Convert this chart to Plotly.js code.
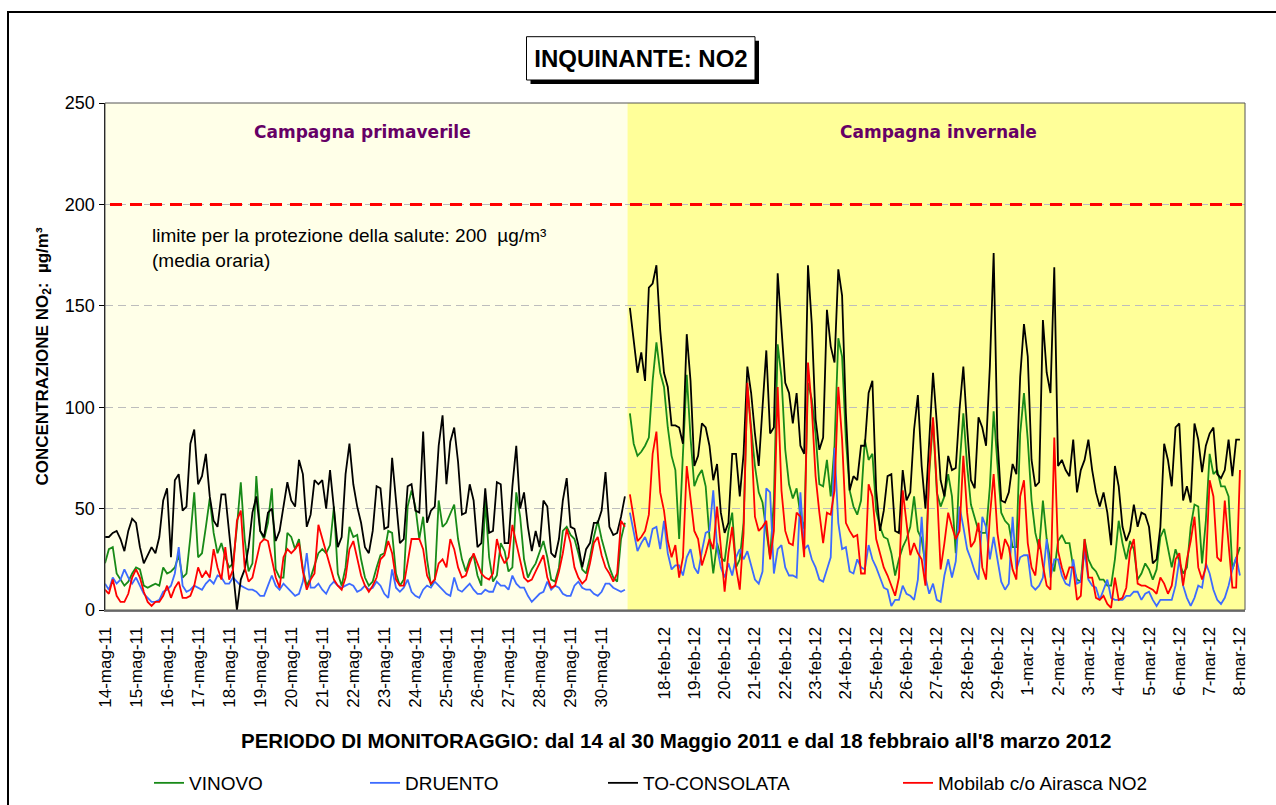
<!DOCTYPE html>
<html>
<head>
<meta charset="utf-8">
<script src="https://cdn.plot.ly/plotly-3.0.1.min.js"></script>
<style>html,body{margin:0;padding:0;background:#fff}#chart{width:1276px;height:805px}</style>
</head>
<body>
<div id="chart"></div>
<script>
// ---- categories / tick labels ----
const springDays = ['14-mag-11','15-mag-11','16-mag-11','17-mag-11','18-mag-11','19-mag-11','20-mag-11','21-mag-11','22-mag-11','23-mag-11','24-mag-11','25-mag-11','26-mag-11','27-mag-11','28-mag-11','29-mag-11','30-mag-11'];
const winterDays = ['18-feb-12','19-feb-12','20-feb-12','21-feb-12','22-feb-12','23-feb-12','24-feb-12','25-feb-12','26-feb-12','27-feb-12','28-feb-12','29-feb-12','1-mar-12','2-mar-12','3-mar-12','4-mar-12','5-mar-12','6-mar-12','7-mar-12','8-mar-12'];
const stepHours = 3;          // one value every 3 hours
const winterStartHour = -27;  // first winter value, hours before 18-feb 00:00

// ---- spring campaign (14-30 May 2011), µg/m³ ----
const vinovoSpring = [23,30,31,18,15,12,14,18,21,20,12,11,12,13,12,21,18,19,21,27,16,18,36,58,26,28,41,55,38,28,33,26,21,23,41,63,35,19,23,66,39,35,43,60,20,
16,16,38,36,30,35,20,12,16,22,28,30,28,32,51,18,12,21,41,36,37,25,16,12,14,21,27,28,39,38,18,12,15,51,59,51,35,46,25,12,15,54,41,43,48,
52,35,25,19,25,27,17,12,54,26,14,17,33,29,19,21,58,46,25,16,20,23,28,34,26,15,14,21,39,41,37,35,28,20,18,26,36,44,35,28,21,16,14,35,43];
const druentoSpring = [13,10,16,13,15,20,16,13,16,12,8,6,4,4,5,9,10,12,18,31,12,9,10,12,11,10,13,15,13,17,16,13,13,16,14,12,11,10,10,9,7,7,12,17,12,
10,13,11,9,7,8,14,28,11,11,13,10,8,12,14,12,11,12,13,12,9,10,12,10,11,14,12,8,6,20,11,9,11,15,9,7,6,10,12,11,14,12,10,8,7,
16,10,9,11,13,10,8,8,10,9,9,14,12,12,10,17,13,11,11,7,4,6,8,9,14,10,12,11,8,7,7,12,14,11,10,10,8,7,9,13,13,11,10,9,10];
const consolataSpring = [36,36,38,39,35,29,39,45,43,31,23,27,31,28,36,54,60,26,64,67,49,51,82,89,62,66,77,56,44,41,57,57,38,21,0,15,20,31,48,56,39,36,48,50,34,
39,50,63,54,51,74,67,41,47,64,62,64,50,69,51,31,36,67,82,62,51,43,31,28,39,61,60,40,41,75,54,33,35,61,62,49,48,88,43,49,51,81,96,62,83,
90,73,47,48,62,54,31,33,60,38,39,63,62,33,33,61,81,50,58,41,29,39,31,54,51,28,26,35,54,65,41,40,32,21,30,33,43,43,49,68,41,37,38,46,56];
const mobilabSpring = [10,8,15,7,4,4,8,16,20,16,9,4,2,4,4,7,12,6,11,14,6,6,7,12,21,16,19,16,30,21,15,31,15,20,44,49,21,14,16,25,33,35,34,25,16,
11,26,30,28,30,33,19,10,15,18,42,35,28,21,15,12,10,16,30,34,26,17,12,9,12,16,25,27,34,28,15,12,12,23,35,35,35,30,17,13,15,23,25,21,35,
30,21,16,17,23,28,23,18,16,15,18,35,27,23,26,42,33,25,16,14,15,19,23,27,16,11,12,19,28,40,33,21,16,13,15,23,33,36,27,21,18,14,18,44,41];

// ---- winter campaign (17 Feb - 8 Mar 2012), µg/m³ ----
const vinovoWinter = [97,82,76,78,81,85,113,132,117,110,90,76,69,35,77,116,85,61,66,69,61,36,18,33,26,24,39,48,21,25,43,110,90,71,58,53,39,26,54,131,
115,79,62,55,60,47,40,112,104,87,62,61,74,56,81,134,125,84,59,51,47,54,84,74,77,49,41,36,35,28,17,25,31,35,41,56,39,35,22,67,94,
58,51,56,67,56,28,71,97,71,52,46,39,38,38,61,98,72,48,44,42,31,31,87,107,84,54,38,30,54,35,24,19,34,37,33,33,21,15,14,35,25,
21,19,15,15,12,12,25,44,33,25,34,30,15,18,23,20,15,20,36,40,30,21,30,24,18,21,41,52,51,23,44,77,67,69,61,61,56,20,25,31];
const druentoWinter = [48,38,29,33,36,31,40,41,30,44,28,20,22,22,17,26,30,21,18,29,38,39,59,31,21,16,23,17,26,30,25,29,22,15,13,19,60,58,18,30,
32,21,17,17,16,58,30,32,25,21,15,14,20,26,80,43,30,31,19,18,25,21,20,32,25,21,16,11,10,2,5,5,12,8,7,5,15,46,16,8,13,
5,4,17,25,16,24,51,41,30,25,19,15,46,41,25,36,24,14,10,13,46,20,26,27,27,12,10,12,16,35,16,25,25,17,13,12,25,13,14,29,15,
12,11,5,10,15,6,5,5,5,7,7,9,9,5,8,9,5,2,5,5,5,5,12,25,12,6,2,6,12,11,23,18,10,5,3,6,12,20,26,17];
const consolataWinter = [149,133,117,127,113,159,161,170,138,117,110,91,91,90,82,136,113,71,76,92,90,81,64,72,48,38,43,77,77,56,77,120,107,87,71,100,128,87,90,166,
140,112,107,92,107,81,77,170,141,94,79,85,148,130,122,168,155,97,59,66,64,81,81,107,113,59,39,49,66,67,39,38,69,54,58,89,106,71,50,84,117,
92,64,56,76,69,70,99,120,90,64,60,95,90,81,120,176,84,54,53,58,72,67,115,141,125,74,61,63,143,117,107,169,71,74,69,66,84,58,69,74,84,
69,58,51,58,48,32,71,61,41,34,39,52,41,48,47,41,23,25,41,82,74,61,90,92,54,61,53,92,84,68,81,87,90,67,65,69,84,66,84,84];
const mobilabWinter = [57,46,34,36,39,47,77,88,58,49,34,26,32,16,26,71,54,39,35,22,28,35,30,51,31,9,28,41,21,10,38,112,87,46,39,41,44,25,39,110,
59,39,33,32,48,46,26,122,100,66,48,33,48,47,59,110,84,43,39,36,37,18,18,62,56,35,28,21,17,12,7,16,59,43,27,33,28,25,12,70,95,
61,20,33,48,41,35,39,76,48,31,34,43,21,15,46,67,38,25,35,31,20,15,56,64,33,21,17,35,22,12,10,85,29,21,15,21,21,5,7,35,16,
16,6,5,7,3,1,16,5,6,11,29,35,13,12,12,11,10,8,16,13,8,12,25,28,12,25,34,46,21,15,21,64,56,26,24,54,31,11,11,69];

// ---- build ----
const F = 'Liberation Sans, Arial, sans-serif';
const springX = vinovoSpring.map((_, i) => i * stepHours);
const winterX = vinovoWinter.map((_, i) => winterStartHour + i * stepHours);

const series = [
  {name: 'VINOVO', color: '#188A18', spring: vinovoSpring, winter: vinovoWinter, legend: 'legend'},
  {name: 'DRUENTO', color: '#3D6BFF', spring: druentoSpring, winter: druentoWinter, legend: 'legend2'},
  {name: 'TO-CONSOLATA', color: '#000000', spring: consolataSpring, winter: consolataWinter, legend: 'legend3'},
  {name: 'Mobilab c/o Airasca NO2', color: '#FF0000', spring: mobilabSpring, winter: mobilabWinter, legend: 'legend4'}
];

const traces = [];
series.forEach(s => {
  traces.push({type: 'scatter', mode: 'lines', x: springX, y: s.spring, xaxis: 'x', yaxis: 'y',
    name: s.name, legendgroup: s.name, showlegend: false, line: {color: s.color, width: 1.8}, hoverinfo: 'skip'});
  traces.push({type: 'scatter', mode: 'lines', x: winterX, y: s.winter, xaxis: 'x2', yaxis: 'y',
    name: s.name, legendgroup: s.name, legend: s.legend, showlegend: true, line: {color: s.color, width: 1.8}, hoverinfo: 'skip'});
});

const L = 105, W = 1140, T = 103, H = 507;
const P = px => (px - L) / W;
const Q = py => (T + H - py) / H;
const split = P(627.5);

const xCommon = {
  tickangle: -90, tickfont: {family: F, size: 17, color: '#000'}, showgrid: false, zeroline: false, automargin: false,
  showline: true, linecolor: '#7a7a7a', linewidth: 2, ticks: '', ticklabelstandoff: 8, anchor: 'y', fixedrange: true
};
const legendCommon = {orientation: 'h', xref: 'container', yref: 'container', xanchor: 'left', yanchor: 'middle', y: 1 - 783 / 805,
  font: {family: F, size: 19, color: '#000'}, bgcolor: 'rgba(0,0,0,0)', borderwidth: 0};

const layout = {
  width: 1276, height: 805,
  margin: {l: L, r: 1276 - L - W, t: T, b: 805 - T - H, pad: 0, autoexpand: false},
  paper_bgcolor: '#ffffff', plot_bgcolor: 'rgba(0,0,0,0)',
  title: {text: '<b>INQUINANTE: NO2</b>', font: {family: F, size: 24, color: '#000'},
    xref: 'container', yref: 'container', x: 641 / 1276, y: 1 - 58.5 / 805, xanchor: 'center', yanchor: 'middle'},
  xaxis: Object.assign({}, xCommon, {domain: [0, split], range: [0, 404],
    tickvals: springDays.map((d, i) => i * 24), ticktext: springDays}),
  xaxis2: Object.assign({}, xCommon, {domain: [split, 1], range: [-28.9, 460],
    tickvals: winterDays.map((d, i) => i * 24), ticktext: winterDays}),
  yaxis: {range: [0, 250], tick0: 0, dtick: 50, anchor: 'x', ticks: 'outside', ticklen: 5, tickcolor: '#000', tickwidth: 1,
    showline: true, linecolor: '#000', linewidth: 1.5, showgrid: true, gridcolor: '#BDBDBD', gridwidth: 1, griddash: '8px,5px',
    zeroline: false, automargin: false, tickfont: {family: F, size: 18, color: '#000'}, fixedrange: true,
    title: {text: '<b>CONCENTRAZIONE NO<sub>2</sub>:  µg/m³</b>', font: {family: F, size: 17, color: '#000'}, standoff: 12}},
  legend: Object.assign({}, legendCommon, {x: 149 / 1276}),
  legend2: Object.assign({}, legendCommon, {x: 365 / 1276}),
  legend3: Object.assign({}, legendCommon, {x: 603 / 1276}),
  legend4: Object.assign({}, legendCommon, {x: 898 / 1276}),
  shapes: [
    {type: 'rect', xref: 'paper', yref: 'paper', x0: 0, x1: split, y0: 0, y1: 1, fillcolor: '#FFFFE8', line: {width: 0}, layer: 'below'},
    {type: 'rect', xref: 'paper', yref: 'paper', x0: split, x1: 1, y0: 0, y1: 1, fillcolor: '#FFFF99', line: {width: 0}, layer: 'below'},
    {type: 'line', xref: 'paper', yref: 'y', x0: P(110), x1: 1, y0: 200, y1: 200, line: {color: '#FF0000', width: 3, dash: '12px,8px'}, layer: 'above'},
    {type: 'rect', xref: 'paper', yref: 'paper', x0: 0, x1: 1, y0: 0, y1: 1, line: {color: '#555555', width: 1}, fillcolor: 'rgba(0,0,0,0)', layer: 'above'},
    {type: 'rect', xref: 'paper', yref: 'paper', x0: P(8), x1: P(1300), y0: Q(830), y1: Q(12), line: {color: '#000', width: 2}, fillcolor: 'rgba(0,0,0,0)', layer: 'above'},
    {type: 'rect', xref: 'paper', yref: 'paper', x0: P(530.5), x1: P(759), y0: Q(84), y1: Q(40.7), line: {width: 0}, fillcolor: '#000', layer: 'above'},
    {type: 'rect', xref: 'paper', yref: 'paper', x0: P(526.5), x1: P(755), y0: Q(80), y1: Q(36.7), line: {color: '#000', width: 1}, fillcolor: '#fff', layer: 'above'}
  ],
  annotations: [
    {text: '<b>Campagna primaverile</b>', xref: 'paper', yref: 'paper', x: P(362), y: Q(132), showarrow: false,
      xanchor: 'center', yanchor: 'middle', font: {family: 'DejaVu Sans', size: 17, color: '#660066'}},
    {text: '<b>Campagna invernale</b>', xref: 'paper', yref: 'paper', x: P(938), y: Q(132), showarrow: false,
      xanchor: 'center', yanchor: 'middle', font: {family: 'DejaVu Sans', size: 17, color: '#660066'}},
    {text: 'limite per la protezione della salute: 200\u00a0 µg/m³<br>(media oraria)', xref: 'paper', yref: 'paper',
      x: P(149.5), y: Q(248), showarrow: false, xanchor: 'left', yanchor: 'middle', align: 'left',
      font: {family: F, size: 19, color: '#000'}},
    {text: "<b>PERIODO DI MONITORAGGIO: dal 14 al 30 Maggio 2011 e dal 18 febbraio all'8 marzo 2012</b>", xref: 'paper', yref: 'paper',
      x: P(676), y: Q(740), showarrow: false, xanchor: 'center', yanchor: 'middle', font: {family: F, size: 20.5, color: '#000'}}
  ]
};

Plotly.newPlot('chart', traces, layout, {displayModeBar: false, staticPlot: true});
</script>
</body>
</html>
